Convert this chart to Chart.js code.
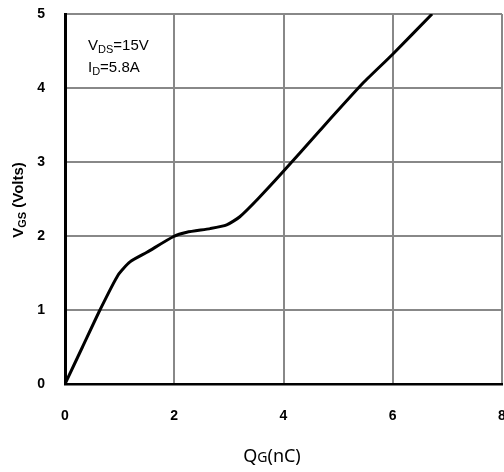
<!DOCTYPE html>
<html>
<head>
<meta charset="utf-8">
<script src="https://cdn.jsdelivr.net/npm/chart.js@4"></script>
<style>
html, body { margin: 0; padding: 0; background: #fff; }
#wrap { width: 504px; height: 472px; }
</style>
</head>
<body>
<div id="wrap"><canvas id="myChart" width="504" height="472"></canvas></div>
<script>
// datos de la curva de carga de compuerta
var qg = [0, 0.32, 0.64, 0.97, 1.19, 1.5, 1.98, 2.23, 2.66, 2.96, 3.2, 3.53, 3.97, 4.67, 5.46, 5.99, 6.72];
var vgs = [0, 0.5, 1.0, 1.47, 1.65, 1.78, 1.99, 2.05, 2.1, 2.15, 2.26, 2.5, 2.85, 3.43, 4.07, 4.45, 5.0];
var xTicks = [0, 2, 4, 6, 8];
var yTicks = [0, 1, 2, 3, 4, 5];

var puntos = [];
for (let i = 0; i < qg.length; i++) {
    puntos.push({ x: qg[i], y: vgs[i] });
}

// texto con subindice
function textoSub(ctx, partes, x, y) {
    var cx = x;
    for (var p of partes) {
        ctx.font = p.font;
        ctx.fillText(p.t, cx, y + (p.dy || 0));
        cx += ctx.measureText(p.t).width;
    }
    return cx - x;
}
function anchoSub(ctx, partes) {
    var w = 0;
    for (var p of partes) {
        ctx.font = p.font;
        w += ctx.measureText(p.t).width;
    }
    return w;
}

var textos = {
    id: 'textos',
    afterDraw: function(chart) {
        var ctx = chart.ctx;
        ctx.save();
        ctx.fillStyle = '#000';
        ctx.textBaseline = 'alphabetic';
        ctx.textAlign = 'left';
        // anotaciones
        textoSub(ctx, [
            { t: 'V', font: '15px "Liberation Sans"' },
            { t: 'DS', font: '11px "Liberation Sans"', dy: 3 },
            { t: '=15V', font: '15px "Liberation Sans"' }
        ], 88, 50);
        textoSub(ctx, [
            { t: 'I', font: '15px "Liberation Sans"' },
            { t: 'D', font: '11px "Liberation Sans"', dy: 3 },
            { t: '=5.8A', font: '15px "Liberation Sans"' }
        ], 88, 72);
        // titulo eje x
        var px = [
            { t: 'Q', font: '18px "Noto Sans"' },
            { t: 'G', font: '14px "Noto Sans"' },
            { t: '(nC)', font: '18px "Noto Sans"' }
        ];
        var w = anchoSub(ctx, px);
        textoSub(ctx, px, 272 - w / 2, 462);
        // titulo eje y
        ctx.translate(23, 200);
        ctx.rotate(-Math.PI / 2);
        var py = [
            { t: 'V', font: 'bold 15px "Liberation Sans"' },
            { t: 'GS', font: 'bold 11px "Liberation Sans"', dy: 3 },
            { t: ' (Volts)', font: 'bold 15px "Liberation Sans"' }
        ];
        var wy = anchoSub(ctx, py);
        textoSub(ctx, py, -wy / 2, 0);
        ctx.restore();
    }
};

var ctx = document.getElementById('myChart').getContext('2d');
var myChart = new Chart(ctx, {
    type: 'scatter',
    data: {
        datasets: [{
            data: puntos,
            showLine: true,
            borderColor: '#000',
            borderWidth: 3,
            pointRadius: 0,
            tension: 0.2,
            fill: false
        }]
    },
    options: {
        responsive: false,
        animation: false,
        layout: { padding: { top: 14, right: 2, left: 0, bottom: 0 } },
        plugins: {
            legend: { display: false },
            tooltip: { enabled: false }
        },
        scales: {
            x: {
                type: 'linear',
                min: 0,
                max: 8,
                afterBuildTicks: function(s) { s.ticks = xTicks.map(v => ({ value: v })); },
                afterFit: function(s) {
                    s.height = 88;
                    s.paddingLeft = 0;
                    s.paddingRight = 0;
                },
                grid: { color: '#888', lineWidth: 2, drawTicks: false },
                border: { color: '#000', width: 2.5 },
                ticks: {
                    color: '#000',
                    padding: 24,
                    font: { family: 'Liberation Sans', size: 14, weight: 'bold' }
                }
            },
            y: {
                min: 0,
                max: 5,
                afterBuildTicks: function(s) { s.ticks = yTicks.map(v => ({ value: v })); },
                afterFit: function(s) {
                    s.width = 65;
                    s.paddingTop = 0;
                    s.paddingBottom = 0;
                },
                grid: { color: '#888', lineWidth: 2, drawTicks: false },
                border: { color: '#000', width: 3 },
                ticks: {
                    color: '#000',
                    padding: 20,
                    font: { family: 'Liberation Sans', size: 14, weight: 'bold' }
                }
            }
        }
    },
    plugins: [textos]
});
</script>
</body>
</html>
